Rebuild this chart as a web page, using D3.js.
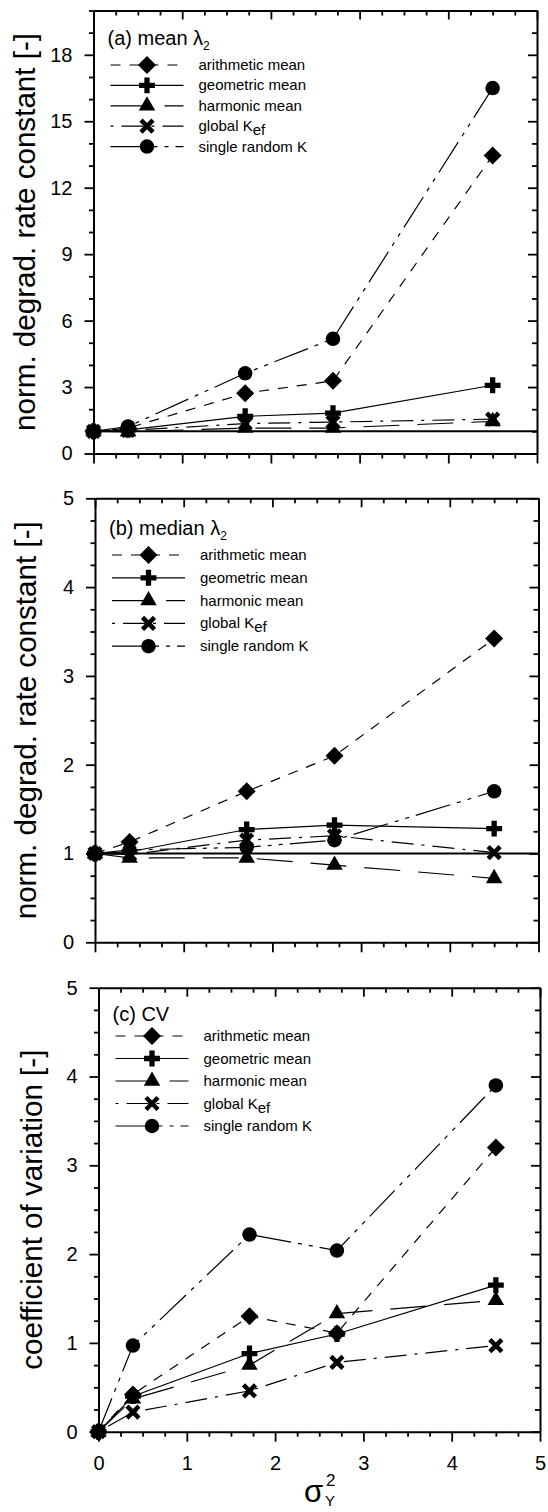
<!DOCTYPE html>
<html>
<head>
<meta charset="utf-8">
<script src="https://cdn.jsdelivr.net/npm/d3@7"></script>
<style>
  body { margin: 0; background: #fff; }
  text { font-family: "Liberation Sans", Arial, sans-serif; fill: #000; }
</style>
</head>
<body>
<svg id="fig" width="548" height="1512"></svg>
<script>
// Variance of log-conductivity (x positions shared by all panels)
const sigmaY2 = [0, 0.39, 1.71, 2.70, 4.50];

// Tick values
const xTicks = [0, 1, 2, 3, 4, 5];
const meanTicks = [0, 3, 6, 9, 12, 15, 18];
const unitTicks = [0, 1, 2, 3, 4, 5];

// Series labels
const seriesLabels = ["arithmetic mean", "geometric mean", "harmonic mean", "global K", "single random K"];

// (a) mean lambda_2, normalised
const meanArithmetic = [1, 1.15, 2.72, 3.28, 13.45];
const meanGeometric  = [1, 1.07, 1.68, 1.82, 3.08];
const meanHarmonic   = [1, 0.98, 1.15, 1.15, 1.45];
const meanGlobal     = [1, 1.04, 1.35, 1.42, 1.55];
const meanSingle     = [1, 1.22, 3.62, 5.18, 16.5];

// (b) median lambda_2, normalised
const medianArithmetic = [1, 1.13, 1.70, 2.10, 3.42];
const medianGeometric  = [1, 1.02, 1.27, 1.32, 1.28];
const medianHarmonic   = [1, 0.95, 0.95, 0.87, 0.72];
const medianGlobal     = [1, 0.99, 1.15, 1.20, 1.01];
const medianSingle     = [1, 1.04, 1.07, 1.15, 1.70];

// (c) coefficient of variation
const cvArithmetic = [0, 0.42, 1.30, 1.11, 3.20];
const cvGeometric  = [0, 0.40, 0.88, 1.10, 1.65];
const cvHarmonic   = [0, 0.37, 0.75, 1.33, 1.48];
const cvGlobal     = [0, 0.22, 0.46, 0.78, 0.97];
const cvSingle     = [0, 0.97, 2.22, 2.04, 3.90];

// Line/marker style for each series (same order as seriesLabels)
const seriesStyle = [
  { dash: "10,9",            shape: "diamond"  },
  { dash: null,              shape: "plus"     },
  { dash: "36,18",           shape: "triangle" },
  { dash: "3,8,22,8",        shape: "cross"    },
  { dash: "36,7,4,7,4,7",    shape: "circle"   }
];
// marker stacking order (drawn first -> last)
const markerOrder = [3, 2, 1, 4, 0];

const panels = [
  {
    top: 10.5, bottom: 453.5, left: 93.5, right: 537,
    yMax: 20, yMajor: meanTicks, yMinorStep: 1,
    series: [meanArithmetic, meanGeometric, meanHarmonic, meanGlobal, meanSingle],
    title: "norm. degrad. rate constant [-]", titleX: 35,
    tag: "(a) mean ", tagY: 45, legendY0: 65, legendDy: 20.4,
    refLine: 1, xLabels: false
  },
  {
    top: 498.3, bottom: 942.3, left: 95, right: 538.5,
    yMax: 5, yMajor: unitTicks, yMinorStep: 0.25,
    series: [medianArithmetic, medianGeometric, medianHarmonic, medianGlobal, medianSingle],
    title: "norm. degrad. rate constant [-]", titleX: 36,
    tag: "(b) median ", tagY: 535, legendY0: 555, legendDy: 22.8,
    refLine: 1, xLabels: false
  },
  {
    top: 987.7, bottom: 1431.7, left: 98.5, right: 540,
    yMax: 5, yMajor: unitTicks, yMinorStep: 0.25,
    series: [cvArithmetic, cvGeometric, cvHarmonic, cvGlobal, cvSingle],
    title: "coefficient of variation [-]", titleX: 42,
    tag: "(c) CV", tagY: 1021, legendY0: 1036, legendDy: 22.5,
    refLine: null, xLabels: true
  }
];

const svg = d3.select("#fig");
svg.append("rect").attr("width", 548).attr("height", 1512).attr("fill", "#fff");

function drawMarker(g, shape, cx, cy) {
  const m = g.append("g").attr("transform", `translate(${cx},${cy})`);
  if (shape === "diamond") {
    m.append("path").attr("d", "M0,-9L9,0L0,9L-9,0Z").attr("fill", "#000");
  } else if (shape === "plus") {
    m.append("path").attr("d", d3.symbol(d3.symbolCross, 140)()).attr("fill", "#000");
  } else if (shape === "triangle") {
    m.append("path").attr("d", d3.symbol(d3.symbolTriangle, 118)()).attr("fill", "#000");
  } else if (shape === "circle") {
    m.append("path").attr("d", d3.symbol(d3.symbolCircle, 165)()).attr("fill", "#000");
  } else if (shape === "cross") {
    m.append("path").attr("d", "M-6,-6L6,6M-6,6L6,-6")
      .attr("stroke", "#000").attr("stroke-width", 4.5).attr("fill", "none");
  }
}

function styleAxis(sel, width) {
  sel.select(".domain").attr("stroke", "#000").attr("stroke-width", 2);
  sel.selectAll(".tick line").attr("stroke", "#000").attr("stroke-width", width);
  sel.selectAll(".tick text").style("font-size", "20px").style("font-family", '"Liberation Sans", Arial, sans-serif');
}

const xMinor = d3.range(0, 5.0001, 0.25).filter(v => Math.abs(v - Math.round(v)) > 1e-6);

panels.forEach(p => {
  const x = d3.scaleLinear().domain([0, 5]).range([p.left, p.right]);
  const y = d3.scaleLinear().domain([0, p.yMax]).range([p.bottom, p.top]);
  const g = svg.append("g");
  const yMinor = d3.range(0, p.yMax + 1e-6, p.yMinorStep).filter(v => !p.yMajor.includes(+v.toFixed(4)));

  // reference line at unity
  if (p.refLine !== null) {
    g.append("line")
      .attr("x1", p.left).attr("x2", p.right)
      .attr("y1", y(p.refLine)).attr("y2", y(p.refLine))
      .attr("stroke", "#000").attr("stroke-width", 2);
  }

  // series lines
  const line = d3.line().x((d, i) => x(sigmaY2[i])).y(d => y(d));
  p.series.forEach((vals, k) => {
    g.append("path").datum(vals)
      .attr("d", line)
      .attr("fill", "none").attr("stroke", "#000").attr("stroke-width", 1.2)
      .attr("stroke-dasharray", seriesStyle[k].dash);
  });

  // markers
  markerOrder.forEach(k => {
    p.series[k].forEach((v, i) => drawMarker(g, seriesStyle[k].shape, x(sigmaY2[i]), y(v)));
  });

  // frame: bottom
  const bottom = g.append("g").attr("transform", `translate(0,${p.bottom})`)
    .call(d3.axisBottom(x).tickValues(xTicks).tickSize(10).tickSizeOuter(0).tickPadding(14)
      .tickFormat(p.xLabels ? d3.format("d") : () => ""));
  styleAxis(bottom, 1.8);
  const bottomMinor = g.append("g").attr("transform", `translate(0,${p.bottom})`)
    .call(d3.axisBottom(x).tickValues(xMinor).tickSize(5).tickFormat(() => ""));
  bottomMinor.select(".domain").remove();
  styleAxis(bottomMinor, 1.8);

  // top (ticks inward)
  const top = g.append("g").attr("transform", `translate(0,${p.top})`)
    .call(d3.axisTop(x).tickValues(xTicks).tickSize(-9).tickSizeOuter(0).tickFormat(() => ""));
  styleAxis(top, 1.8);
  const topMinor = g.append("g").attr("transform", `translate(0,${p.top})`)
    .call(d3.axisTop(x).tickValues(xMinor).tickSize(-5).tickFormat(() => ""));
  topMinor.select(".domain").remove();
  styleAxis(topMinor, 1.8);

  // left
  const left = g.append("g").attr("transform", `translate(${p.left},0)`)
    .call(d3.axisLeft(y).tickValues(p.yMajor).tickSize(9).tickSizeOuter(0).tickPadding(12).tickFormat(d3.format("d")));
  styleAxis(left, 1.8);
  const leftMinor = g.append("g").attr("transform", `translate(${p.left},0)`)
    .call(d3.axisLeft(y).tickValues(yMinor).tickSize(4.5).tickFormat(() => ""));
  leftMinor.select(".domain").remove();
  styleAxis(leftMinor, 1.8);

  // right (ticks inward)
  const right = g.append("g").attr("transform", `translate(${p.right},0)`)
    .call(d3.axisRight(y).tickValues(p.yMajor).tickSize(-9).tickSizeOuter(0).tickFormat(() => ""));
  styleAxis(right, 1.8);
  const rightMinor = g.append("g").attr("transform", `translate(${p.right},0)`)
    .call(d3.axisRight(y).tickValues(yMinor).tickSize(-5).tickFormat(() => ""));
  rightMinor.select(".domain").remove();
  styleAxis(rightMinor, 1.8);

  // y-axis title
  g.append("text")
    .attr("transform", `translate(${p.titleX},${(p.top + p.bottom) / 2}) rotate(-90)`)
    .attr("text-anchor", "middle")
    .style("font-size", "29.6px")
    .text(p.title);

  // panel tag
  const tag = g.append("text").attr("x", p.left + 14).attr("y", p.tagY).style("font-size", "20px");
  tag.append("tspan").text(p.tag);
  if (p.tag.indexOf("CV") < 0) {
    tag.append("tspan").text("λ");
    tag.append("tspan").attr("dy", 5).style("font-size", "12px").text("2");
  }

  // legend
  seriesLabels.forEach((name, k) => {
    const ly = p.legendY0 + k * p.legendDy;
    g.append("line")
      .attr("x1", p.left + 17).attr("x2", p.left + 90)
      .attr("y1", ly).attr("y2", ly)
      .attr("stroke", "#000").attr("stroke-width", 1.2)
      .attr("stroke-dasharray", seriesStyle[k].dash);
    drawMarker(g, seriesStyle[k].shape, p.left + 53.5, ly);
    const t = g.append("text").attr("x", p.left + 105).attr("y", ly + 5).style("font-size", "15px");
    t.append("tspan").text(name);
    if (k === 3) t.append("tspan").attr("dy", 4).style("font-size", "15px").text("ef");
  });
});

// x-axis title: sigma_Y^2
svg.append("text").attr("x", 304).attr("y", 1502).style("font-size", "31px").text("σ");
svg.append("text").attr("x", 326).attr("y", 1486).style("font-size", "17px").text("2");
svg.append("text").attr("x", 325).attr("y", 1506).style("font-size", "15px").text("Y");
</script>
</body>
</html>
